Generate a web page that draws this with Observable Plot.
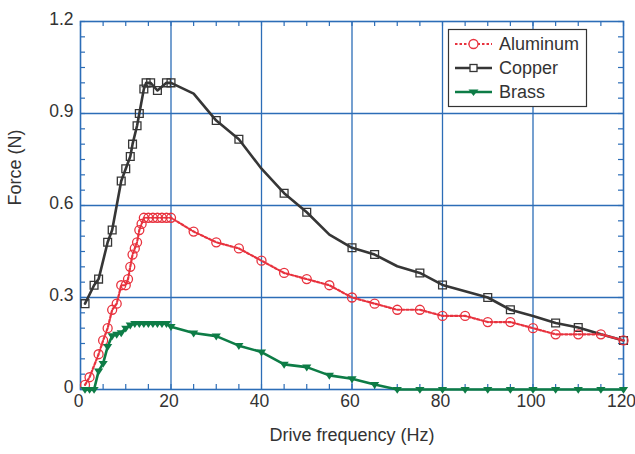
<!DOCTYPE html>
<html><head><meta charset="utf-8">
<script src="https://cdn.jsdelivr.net/npm/d3@7"></script>
<script src="https://cdn.jsdelivr.net/npm/@observablehq/plot@0.6"></script>
<style>
body{margin:0;background:#fff;}
#wrap{position:relative;width:635px;height:454px;font-family:"Liberation Sans",Arial,Helvetica,sans-serif;}
#legend{position:absolute;left:0;top:0;}
</style></head><body><div id="wrap"></div>
<script>
// ---- data ----
const aluminumFreq = [1,2,4,5,6,7,8,9,10,10.5,11,11.5,12,12.5,13,13.5,14,15,16,17,18,19,20,25,30,35,40,45,50,55,60,65,70,75,80,85,90,95,100,105,110,115,120];
const aluminumForce = [0.015,0.04,0.115,0.16,0.2,0.26,0.28,0.34,0.34,0.36,0.4,0.44,0.46,0.48,0.52,0.54,0.56,0.56,0.56,0.56,0.56,0.56,0.56,0.515,0.48,0.46,0.42,0.38,0.36,0.34,0.3,0.28,0.26,0.26,0.24,0.24,0.22,0.22,0.2,0.18,0.18,0.18,0.16];

const copperFreq = [1,3,4,6,7,9,10,11,11.5,12.5,13,14,14.5,15.5,17,19,20,25,30,35,40,45,50,55,60,65,70,75,80,85,90,95,100,105,110,115,120];
const copperForce = [0.28,0.34,0.36,0.48,0.52,0.68,0.72,0.76,0.8,0.86,0.9,0.98,1.0,1.0,0.975,1.0,1.0,0.965,0.877,0.816,0.72,0.64,0.578,0.505,0.462,0.44,0.402,0.38,0.341,0.32,0.3,0.26,0.24,0.217,0.202,0.18,0.16];
const copperNoMarker = [25,40,55,70,85,100,115];

const brassFreq = [1,2,3,4,5,6,7,8,9,10,11,12,13,14,15,16,17,18,19,20,25,30,35,40,45,50,55,60,65,70,75,80,85,90,95,100,105,110,115,120];
const brassForce = [0,0,0,0.06,0.085,0.14,0.175,0.18,0.185,0.2,0.21,0.215,0.215,0.215,0.215,0.215,0.215,0.215,0.215,0.205,0.184,0.174,0.143,0.122,0.082,0.073,0.046,0.035,0.016,0,0,0,0,0,0,0,0,0,0,0];

const seriesNames = ["Aluminum","Copper","Brass"];
const xTicks = [0,20,40,60,80,100,120];
const yTicks = [0,0.3,0.6,0.9,1.2];
const yTickLabels = ["0","0.3","0.6","0.9","1.2"];
const xMinor = d3.range(0,121,5);
const yMinor = d3.range(0,25).map(i => +(i*0.05).toFixed(2));
const xTitle = "Drive frequency (Hz)";
const yTitle = "Force (N)";

// ---- styles ----
const BLUE = "#2c6db7", RED = "#e8323e", DARK = "#363636", GREEN = "#0d7c46";
const W = 635, H = 454, mT = 21, mR = 12, mB = 65, mL = 80;
const PH = H - mT - mB, PW = W - mL - mR, TK = 5;

const aluminum = aluminumFreq.map((f,i) => ({f, v: aluminumForce[i]}));
const copper = copperFreq.map((f,i) => ({f, v: copperForce[i]}));
const brass = brassFreq.map((f,i) => ({f, v: brassForce[i]}));

const triangleDown = {
  draw(ctx, size) {
    const r = Math.sqrt(size / Math.PI);
    ctx.moveTo(-r, -0.55*r);
    ctx.lineTo(r, -0.55*r);
    ctx.lineTo(0, 0.95*r);
    ctx.closePath();
  }
};

const chart = Plot.plot({
  width: W, height: H,
  marginTop: mT, marginRight: mR, marginBottom: mB, marginLeft: mL,
  style: {fontFamily: '"Liberation Sans", Arial, Helvetica, sans-serif', fontSize: "18px", color: "#333", background: "#fff"},
  x: {domain: [0,120]},
  y: {domain: [0,1.2]},
  marks: [
    Plot.ruleX(xTicks.slice(1,-1), {x: d => d, stroke: BLUE, strokeWidth: 1.3}),
    Plot.ruleY(yTicks.slice(1,-1), {y: d => d, stroke: BLUE, strokeWidth: 1.3}),
    Plot.tickX(xMinor, {x: d => d, insetTop: PH - TK, stroke: BLUE, strokeWidth: 1.2}),
    Plot.tickX(xMinor, {x: d => d, insetBottom: PH - TK, stroke: BLUE, strokeWidth: 1.2}),
    Plot.tickY(yMinor, {y: d => d, insetRight: PW - TK, stroke: BLUE, strokeWidth: 1.2}),
    Plot.tickY(yMinor, {y: d => d, insetLeft: PW - TK, stroke: BLUE, strokeWidth: 1.2}),
    Plot.frame({stroke: BLUE, strokeWidth: 1.6}),
    Plot.axisX({ticks: xTicks, tickSize: 0, tickPadding: 5, dx: -2, fontSize: 17.5, tickFormat: d => String(d), label: null, fill: "#333"}),
    Plot.axisY({ticks: yTicks, tickSize: 0, tickPadding: 7, dy: -2, fontSize: 17.5, tickFormat: d => yTickLabels[yTicks.indexOf(d)], label: null, fill: "#333"}),
    Plot.text([xTitle], {frameAnchor: "bottom", dy: 51, text: d => d, fill: "#333"}),
    Plot.text([yTitle], {frameAnchor: "left", dx: -65, rotate: -90, text: d => d, fill: "#333"}),
    // Copper
    Plot.line(copper, {x: "f", y: "v", stroke: DARK, strokeWidth: 2.6}),
    Plot.dot(copper.filter(d => !copperNoMarker.includes(d.f)), {x: "f", y: "v", symbol: "square", r: 4.4, stroke: DARK, strokeWidth: 1.3, fill: "none"}),
    // Aluminum
    Plot.line(aluminum, {x: "f", y: "v", stroke: RED, strokeWidth: 2.2, strokeDasharray: "2.5,2"}),
    Plot.dot(aluminum, {x: "f", y: "v", symbol: "circle", r: 4.5, stroke: RED, strokeWidth: 1.3, fill: "none"}),
    // Brass
    Plot.line(brass, {x: "f", y: "v", stroke: GREEN, strokeWidth: 2.6}),
    Plot.dot(brass, {x: "f", y: "v", symbol: triangleDown, r: 4.6, fill: GREEN, stroke: "none"})
  ]
});
const wrap = document.getElementById("wrap");
wrap.appendChild(chart);

// ---- legend ----
const lg = d3.select(wrap).append("svg").attr("id","legend").attr("width",W).attr("height",H);
lg.append("rect").attr("x",448.5).attr("y",29.5).attr("width",138).attr("height",77)
  .attr("fill","#fff").attr("stroke","#333").attr("stroke-width",1.2);
const rowsY = [44, 68, 92];
const legendStyle = [
  {stroke: RED, dash: "2.5,2", w: 2.2},
  {stroke: DARK, dash: null, w: 2.6},
  {stroke: GREEN, dash: null, w: 2.6}
];
seriesNames.forEach((name, i) => {
  const y = rowsY[i], s = legendStyle[i];
  lg.append("line").attr("x1",455).attr("x2",492).attr("y1",y).attr("y2",y)
    .attr("stroke",s.stroke).attr("stroke-width",s.w).attr("stroke-dasharray",s.dash);
  if (i === 0) lg.append("circle").attr("cx",473.5).attr("cy",y).attr("r",4.5).attr("fill","#fff").attr("stroke",RED).attr("stroke-width",1.3);
  if (i === 1) lg.append("rect").attr("x",470).attr("y",y-3.5).attr("width",7).attr("height",7).attr("fill","#fff").attr("stroke",DARK).attr("stroke-width",1.3);
  if (i === 2) lg.append("path").attr("d",`M${468.5},${y-2.5}L${478.5},${y-2.5}L${473.5},${y+4}Z`).attr("fill",GREEN);
  lg.append("text").attr("x",499).attr("y",y).attr("dy","0.35em")
    .attr("font-size","18px").attr("fill","#333")
    .attr("font-family",'"Liberation Sans", Arial, Helvetica, sans-serif').text(name);
});
</script></body></html>
